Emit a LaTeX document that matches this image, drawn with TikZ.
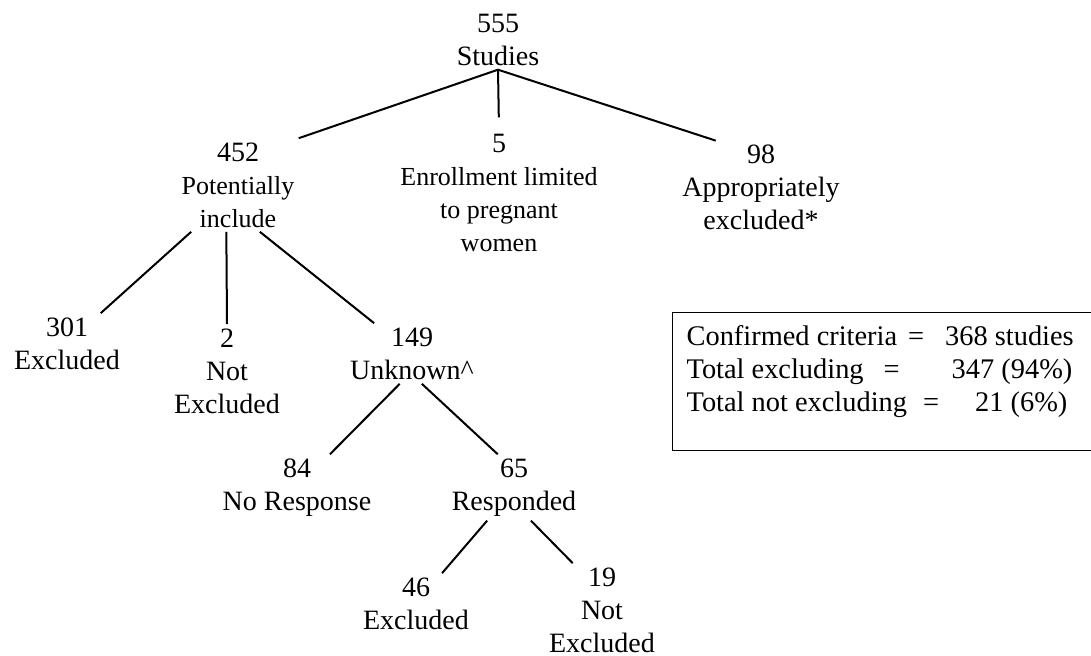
\documentclass[tikz,border=0pt]{standalone}
\usepackage{fontspec}
\setmainfont{Liberation Serif}
\usepackage{tikz}
\usetikzlibrary{calc,positioning}
\newcommand{\bignum}[1]{{\fontsize{14}{16.5}\selectfont #1}}

\begin{document}
\begin{tikzpicture}[
    x=0.5pt, y=-0.5pt,
    count/.style={align=center, font=\fontsize{14}{16.5}\selectfont, inner sep=2pt},
    countsm/.style={count, font=\fontsize{13}{16.5}\selectfont},
    branch/.style={line width=1pt},
    note/.style={draw, line width=0.6pt, anchor=north west, inner xsep=7pt, inner ysep=6.5pt}
]
    \useasboundingbox (0,0) rectangle (1091,656);

    % Top: all studies
    \node[count] (root) at (498, 39.5) {555\\Studies};

    % First split
    \node[countsm] (n452) at (238, 185) {\bignum{452}\\Potentially\\include};
    \node[countsm] (n5) at (499, 192.5) {\bignum{5}\\Enrollment limited\\to pregnant\\women};
    \node[count] (n98) at (761, 187.5) {98\\Appropriately\\excluded*};

    \draw[branch] (root.south) -- (n452.north east);
    \draw[branch, shorten >=6pt] (root.south) -- (n5.north);
    \draw[branch] (root.south) -- (n98.134);

    % Second split
    \node[count] (n301) at (67, 343.5) {301\\Excluded};
    \node[count] (n2) at (227, 371) {2\\Not\\Excluded};
    \node[count] (n149) at (412, 353.5) {149\\Unknown\textasciicircum};

    \draw[branch] (n452.-135) -- (n301);
    \draw[branch] (n452.-104) -- (n2.north);
    \draw[branch] (n452.-65) -- (n149);

    % Unknown: contacted
    \node[count] (n84) at (297, 487.5) {84\\No Response};
    \node[count] (n65) at (514, 487.5) {65\\Responded};

    \draw[branch] (n149.-112) -- (n84);
    \draw[branch] (n149.-72) -- (n65.116);

    \node[count] (n46) at (416, 603.5) {46\\Excluded};
    \node[count] (n19) at (602, 610) {19\\Not\\Excluded};

    \draw[branch] (n65.-129) -- (n46);
    \draw[branch] (n65.-63) -- (n19.122);

    % Summary box (runs off the right edge)
    \node[note] (summary) at (672, 312) {\parbox[t][56pt][t]{207pt}{\raggedright\fontsize{14.2}{16.5}\selectfont
        Confirmed criteria\hspace{5.5pt}=\hspace{10.5pt}368 studies\\
        Total excluding\hspace{10pt}=\hspace{26pt}347 (94\%)\\
        Total not excluding\hspace{8pt}=\hspace{18pt}21 (6\%)}};

\end{tikzpicture}
\end{document}
